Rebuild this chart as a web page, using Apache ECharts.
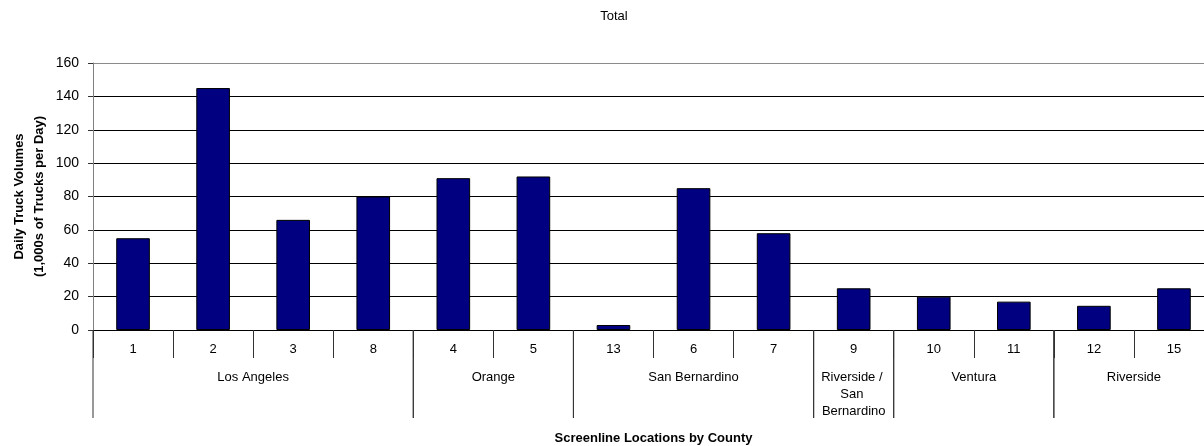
<!DOCTYPE html>
<html>
<head>
<meta charset="utf-8">
<script src="https://cdn.jsdelivr.net/npm/echarts@6/dist/echarts.min.js"></script>
<style>
  html, body { margin: 0; padding: 0; background: #fff; }
  #chart { width: 1204px; height: 446px; }
</style>
</head>
<body>
<div id="chart"></div>
<script>
// Screenline locations, in the order they are grouped by county
const locations = ['1', '2', '3', '8', '4', '5', '13', '6', '7', '9', '10', '11', '12', '15'];
// Daily truck volumes, thousands of trucks per day
const volumes = [55, 145, 66, 80, 91, 92, 3, 85, 58, 25, 20, 17, 14.5, 25];
// County groups: name, first and last location index
const countyNames = ['Los Angeles', 'Orange', 'San Bernardino', 'Riverside / San Bernardino', 'Ventura', 'Riverside'];
const countyStart = [0, 4, 6, 9, 10, 12];
const countyEnd = [3, 5, 8, 9, 11, 13];
const yTicks = [0, 20, 40, 60, 80, 100, 120, 140, 160];

const FONT = '"Liberation Sans", Arial, sans-serif';

const chart = echarts.init(document.getElementById('chart'), null, { renderer: 'canvas' });

const countyData = countyNames.map((n, i) => [countyStart[i], 0, countyEnd[i]]);

chart.setOption({
  animation: false,
  backgroundColor: '#ffffff',
  title: {
    text: 'Total',
    left: 609, top: 5,
    textAlign: 'center',
    textStyle: { fontFamily: FONT, fontSize: 13, fontWeight: 'normal', color: '#000' }
  },
  grid: { left: 93, top: 63, width: 1121, height: 267, containLabel: false, outerBoundsMode: 'none' },
  xAxis: {
    type: 'category',
    data: locations,
    boundaryGap: true,
    axisLine: { show: true, lineStyle: { color: '#000', width: 1 } },
    axisTick: { show: true, length: 28, lineStyle: { color: '#333', width: 1 } },
    axisLabel: { margin: 13, fontFamily: FONT, fontSize: 13, color: '#000' },
    name: 'Screenline Locations by County',
    nameLocation: 'middle',
    nameGap: 102,
    nameMoveOverlap: false,
    nameTextStyle: { fontFamily: FONT, fontSize: 13, fontWeight: 'bold', color: '#000' }
  },
  yAxis: {
    type: 'value',
    min: yTicks[0],
    max: yTicks[yTicks.length - 1],
    interval: yTicks[1] - yTicks[0],
    axisLine: { show: true, lineStyle: { color: '#808080', width: 1 } },
    axisTick: { show: true, length: 5, lineStyle: { color: '#333' } },
    axisLabel: { margin: 14, fontFamily: FONT, fontSize: 14, color: '#000' },
    splitLine: {
      show: true,
      lineStyle: {
        color: ['#000', '#000', '#000', '#000', '#000', '#000', '#000', '#000', '#8a8a8a'],
        width: 1
      }
    },
    name: 'Daily Truck Volumes\n(1,000s of Trucks per Day)',
    nameLocation: 'middle',
    nameGap: 44,
    nameMoveOverlap: false,
    nameRotate: 90,
    nameTextStyle: { fontFamily: FONT, fontSize: 13, fontWeight: 'bold', color: '#000', lineHeight: 20 }
  },
  series: [
    {
      type: 'bar',
      data: volumes,
      barWidth: '42%',
      itemStyle: { color: '#000080', borderColor: '#000', borderWidth: 1 }
    },
    {
      // County group labels and separators under the location labels
      type: 'custom',
      clip: false,
      silent: true,
      encode: { x: 0, y: 1 },
      data: countyData,
      renderItem: function (params, api) {
        const start = api.value(0);
        const end = api.value(2);
        const band = api.size([1, 0])[0];
        const p0 = api.coord([start, 0]);
        const p1 = api.coord([end, 0]);
        const x0 = p0[0] - band / 2;
        const x1 = p1[0] + band / 2;
        const y0 = p0[1];
        const children = [
          { type: 'line', shape: { x1: x0, y1: y0, x2: x0, y2: y0 + 88 }, style: { stroke: '#333', lineWidth: 1 } },
          { type: 'line', shape: { x1: x1, y1: y0, x2: x1, y2: y0 + 88 }, style: { stroke: '#333', lineWidth: 1 } },
          {
            type: 'text',
            x: (x0 + x1) / 2,
            y: y0 + 39,
            style: {
              text: countyNames[params.dataIndex],
              fontFamily: FONT,
              fontSize: 13,
              fill: '#000',
              align: 'center',
              verticalAlign: 'top',
              lineHeight: 17,
              width: (x1 - x0) - 6,
              overflow: 'break'
            }
          }
        ];
        return { type: 'group', children: children };
      }
    }
  ]
});
</script>
</body>
</html>
